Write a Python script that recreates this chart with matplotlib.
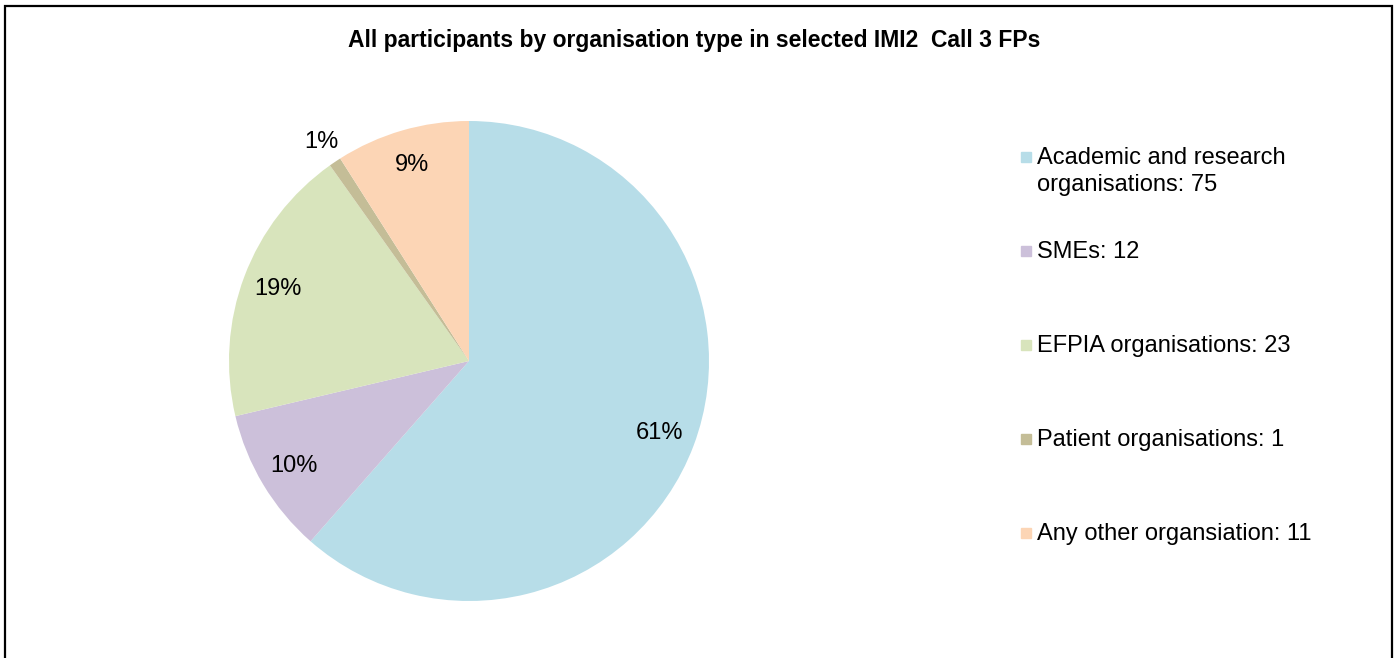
import numpy as np
import matplotlib.pyplot as plt
from matplotlib.patches import Rectangle

plt.rcParams['font.family'] = ['Liberation Sans', 'DejaVu Sans']

labels = ['Academic and research\norganisations', 'SMEs', 'EFPIA organisations',
          'Patient organisations', 'Any other organsiation']
counts = [75, 12, 23, 1, 11]
colors = ['#B7DDE8', '#CCC0DA', '#D8E4BC', '#C4BD97', '#FCD5B5']
title = 'All participants by organisation type in selected IMI2  Call 3 FPs'

W, H = 1397, 658
fig = plt.figure(figsize=(W / 100, H / 100), dpi=100)

# pie axes, centre (469,361), radius 240 px
ax = fig.add_axes([229 / W, (H - 601) / H, 480 / W, 480 / H])
wedges, texts, autotexts = ax.pie(counts, colors=colors, startangle=90, counterclock=False,
                                  autopct=lambda p: '%d%%' % round(p), pctdistance=0.85,
                                  textprops=dict(fontsize=17, color='black'))
ax.set_xlim(-1, 1)
ax.set_ylim(-1, 1)
ax.set_aspect('equal')

# the tiny slice gets its label outside the pie
for w, t, c in zip(wedges, autotexts, counts):
    if c / sum(counts) < 0.02:
        ang = np.deg2rad((w.theta1 + w.theta2) / 2)
        t.set_position((1.1 * np.cos(ang), 1.1 * np.sin(ang)))
    t.set_clip_on(False)

fig.text(0.497, 1 - 41 / H, title, ha='center', va='center', fontsize=16.5, fontweight='bold')

# legend drawn by hand so the marker sits on the first line
for i, (lab, c, col) in enumerate(zip(labels, counts, colors)):
    y = 1 - (157 + 94 * i) / H
    fig.patches.append(Rectangle((1021 / W, y - 5 / H), 10 / W, 10 / H, color=col,
                                 transform=fig.transFigure))
    fig.text(1037 / W, y + 10 / H, lab + ': %d' % c, ha='left', va='top', fontsize=17,
             linespacing=1.3)

# chart frame
fig.patches.append(Rectangle((5 / W, -0.05), 1387 / W, 1.05 - 6 / H, fill=False,
                             edgecolor='black', linewidth=1.6, transform=fig.transFigure))

fig.savefig('out.png', dpi=100)
